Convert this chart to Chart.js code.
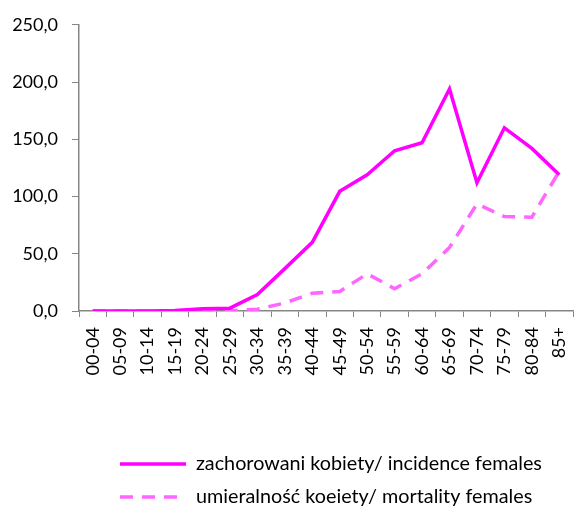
<!DOCTYPE html>
<html>
<head>
<meta charset="utf-8">
<script src="https://cdn.jsdelivr.net/npm/chart.js@4/dist/chart.umd.min.js"></script>
<style>
  html, body { margin: 0; padding: 0; background: #fff; }
  #wrap { width: 574px; height: 508px; }
</style>
</head>
<body>
<div id="wrap"><canvas id="myChart"></canvas></div>
<script>
// age groups
var ageGroups = ["00-04", "05-09", "10-14", "15-19", "20-24", "25-29", "30-34", "35-39", "40-44",
    "45-49", "50-54", "55-59", "60-64", "65-69", "70-74", "75-79", "80-84", "85+"];

// rates
var incidenceFemales = [0, 0, 0, 0.5, 2.0, 2.5, 14.4, 37, 60, 104.5, 119, 140, 147, 194, 112, 160, 142, 119];
var mortalityFemales = [0, 0, 0, 0, 0, 0.3, 1.5, 7, 15.5, 17, 32.5, 19.5, 32.5, 55.5, 93.5, 82.5, 82, 122];

var seriesLabels = ["zachorowani kobiety/ incidence females", "umieralność koeiety/ mortality females"];
var yTicks = [0, 50, 100, 150, 200, 250];

var fontFamily = "Lato, 'Noto Sans', sans-serif";
var legendPad = 13.2;

// move the legend block so its rows start where the original ones do
var legendShift = {
    id: 'legendShift',
    beforeDraw: function(chart) {
        chart.legend.left = 120 - legendPad;
        chart.legend.top = 441;
    }
};

var ctx = document.getElementById("myChart");
var myChart = new Chart(ctx, {
    type: 'line',
    data: {
        labels: ageGroups,
        datasets: [{
                label: seriesLabels[0],
                data: incidenceFemales,
                borderColor: '#ff00ff',
                backgroundColor: '#ff00ff',
                borderWidth: 3.5,
                pointRadius: 0,
                tension: 0,
                fill: false
            },
            {
                label: seriesLabels[1],
                data: mortalityFemales,
                borderColor: '#ff66ff',
                backgroundColor: '#ff66ff',
                borderWidth: 3.5,
                borderDash: [13, 9],
                pointRadius: 0,
                tension: 0,
                fill: false
            }
        ]
    },
    options: {
        responsive: true,
        maintainAspectRatio: false,
        animation: false,
        layout: {
            padding: { top: 22, right: 1, left: 0, bottom: 0 }
        },
        plugins: {
            tooltip: { enabled: false },
            legend: {
                position: 'bottom',
                align: 'start',
                labels: {
                    usePointStyle: true,
                    pointStyle: 'line',
                    pointStyleWidth: 66,
                    padding: legendPad,
                    color: '#000',
                    font: { family: fontFamily, size: 19.8 },
                    generateLabels: function(chart) {
                        // point style hides the dash, so take it from the dataset
                        var items = Chart.defaults.plugins.legend.labels.generateLabels(chart);
                        items.forEach(function(item) {
                            item.lineDash = chart.data.datasets[item.datasetIndex].borderDash || [];
                        });
                        return items;
                    }
                }
            }
        },
        scales: {
            x: {
                offset: true,
                grid: {
                    offset: true,
                    drawOnChartArea: false,
                    tickLength: 6,
                    color: '#868686'
                },
                border: { color: '#868686', width: 1.5 },
                ticks: {
                    autoSkip: false,
                    minRotation: 90,
                    maxRotation: 90,
                    padding: 10,
                    color: '#000',
                    font: { family: fontFamily, size: 18 }
                },
                afterFit: function(scale) {
                    scale.height = 121;
                    scale.paddingLeft = 0;
                    scale.paddingRight = 0;
                }
            },
            y: {
                min: 0,
                max: 250,
                afterBuildTicks: function(scale) {
                    scale.ticks = yTicks.map(function(v) { return { value: v }; });
                },
                grid: {
                    drawOnChartArea: false,
                    tickLength: 7,
                    color: '#868686'
                },
                border: { color: '#868686', width: 1.5 },
                ticks: {
                    padding: 14,
                    color: '#000',
                    font: { family: fontFamily, size: 18 },
                    callback: function(value) { return value.toFixed(1).replace('.', ','); }
                },
                afterFit: function(scale) { scale.width = 79; }
            }
        }
    },
    plugins: [legendShift]
});
</script>
</body>
</html>
